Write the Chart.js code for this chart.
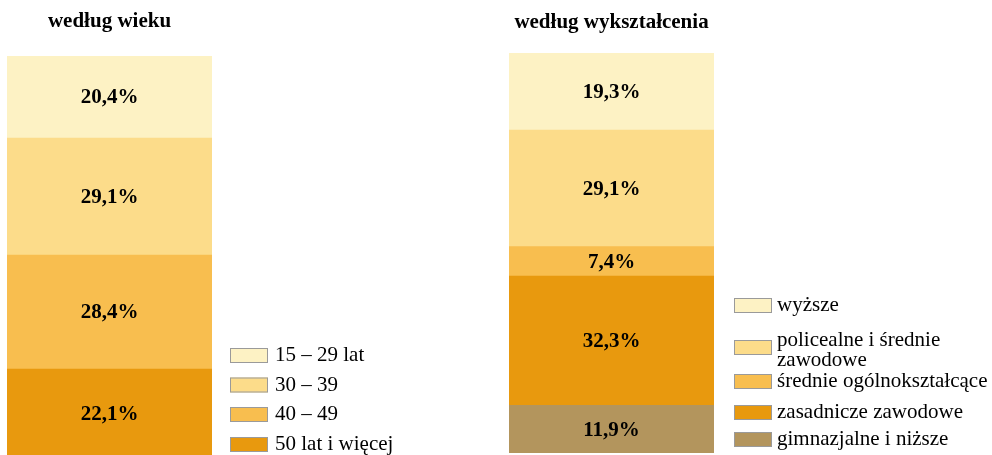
<!DOCTYPE html>
<html lang="pl">
<head>
<meta charset="utf-8">
<script src="https://cdn.jsdelivr.net/npm/chart.js@4/dist/chart.umd.min.js"></script>
<style>
  html, body { margin: 0; padding: 0; background: #fff; width: 992px; height: 455px; overflow: hidden; }
  .box { position: absolute; top: 0; }
</style>
</head>
<body>
<div class="box" style="left:0"><canvas id="wiek" width="496" height="462"></canvas></div>
<div class="box" style="left:496px"><canvas id="wyksztalcenie" width="496" height="462"></canvas></div>
<script>
/*
    DANE
*/
const AGE_TITLE = 'według wieku';
const AGE_LABELS = ['15 – 29 lat', '30 – 39', '40 – 49', '50 lat i więcej'];
const AGE_VALUES = [20.4, 29.1, 28.4, 22.1];
const AGE_COLORS = ['#fdf2c4', '#fcdc8a', '#f8be4f', '#e8990e'];

const EDU_TITLE = 'według wykształcenia';
const EDU_LABELS = ['wyższe', ['policealne i średnie', 'zawodowe'], 'średnie ogólnokształcące', 'zasadnicze zawodowe', 'gimnazjalne i niższe'];
const EDU_VALUES = [19.3, 29.1, 7.4, 32.3, 11.9];
const EDU_COLORS = ['#fdf2c4', '#fcdc8a', '#f8be4f', '#e8990e', '#b3955d'];

/*
    PLUGIN: tytul, etykiety wartosci, legenda
*/
const SERIF = '"Liberation Serif", "Times New Roman", serif';

const decorPlugin = {
  id: 'decor',
  afterDatasetsDraw(chart, args, opts) {
    const ctx = chart.ctx;
    const area = chart.chartArea;
    ctx.save();
    // wartosci w srodku segmentow
    ctx.fillStyle = '#000';
    ctx.font = 'bold 21px ' + SERIF;
    ctx.textAlign = 'center';
    ctx.textBaseline = 'middle';
    chart.data.datasets.forEach((ds, i) => {
      const bar = chart.getDatasetMeta(i).data[0];
      const { x, y, base } = bar.getProps(['x', 'y', 'base'], true);
      const txt = ds.data[0].toFixed(1).replace('.', ',') + '%';
      ctx.fillText(txt, x, (y + base) / 2 + 1);
    });
    // tytul
    ctx.font = 'bold 21px ' + SERIF;
    ctx.textBaseline = 'alphabetic';
    ctx.fillText(opts.title, (area.left + area.right) / 2, opts.titleY);
    // legenda
    const items = chart.data.datasets.slice().reverse();
    ctx.font = '21px ' + SERIF;
    ctx.textAlign = 'left';
    ctx.textBaseline = 'middle';
    items.forEach((ds, i) => {
      const cy = opts.itemY[i];
      ctx.fillStyle = ds.backgroundColor;
      ctx.fillRect(opts.boxX, cy - 7.5, 38, 15);
      ctx.strokeStyle = '#9a9a9a';
      ctx.lineWidth = 1;
      ctx.strokeRect(opts.boxX + 0.5, cy - 7, 37, 14);
      ctx.fillStyle = '#000';
      const lines = Array.isArray(ds.label) ? ds.label : [ds.label];
      lines.forEach((line, j) => {
        const ly = lines.length > 1 ? cy + (j - (lines.length - 1) / 2) * 20 + 2.5 : cy;
        ctx.fillText(line, opts.boxX + 38 + opts.gap, ly);
      });
    });
    ctx.restore();
  }
};

const drawChart = (canvasId, labels, values, colors, decor, padding) => {
  // pierwszy element legendy ma byc na gorze slupka -> odwrocona kolejnosc
  const datasets = labels.map((label, i) => ({
    label,
    data: [values[i]],
    backgroundColor: colors[i],
    borderWidth: 0,
    barPercentage: 1,
    categoryPercentage: 1
  })).reverse();
  return new Chart(document.getElementById(canvasId), {
    type: 'bar',
    data: { labels: [''], datasets },
    plugins: [decorPlugin],
    options: {
      responsive: false,
      animation: false,
      layout: { padding },
      scales: {
        x: { stacked: true, display: false },
        y: { stacked: true, display: false, min: 0, max: 100 }
      },
      plugins: {
        legend: { display: false },
        tooltip: { enabled: false },
        decor
      }
    }
  });
};

drawChart('wiek', AGE_LABELS, AGE_VALUES, AGE_COLORS,
  { title: AGE_TITLE, titleY: 27, boxX: 230, gap: 7, itemY: [355.5, 385, 414.5, 444.5] },
  { left: 7, right: 284, top: 56, bottom: 4 });

drawChart('wyksztalcenie', EDU_LABELS, EDU_VALUES, EDU_COLORS,
  { title: EDU_TITLE, titleY: 28, boxX: 238, gap: 5, itemY: [305.5, 347.5, 381.5, 412.5, 439.5] },
  { left: 13, right: 278, top: 53, bottom: 9 });
</script>
</body>
</html>
